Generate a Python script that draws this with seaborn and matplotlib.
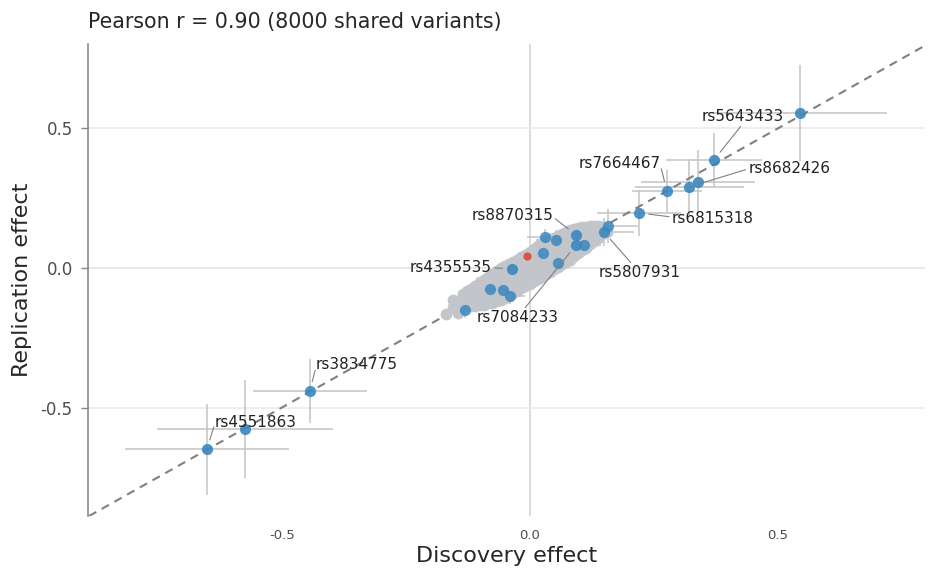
import numpy as np
import pandas as pd
import matplotlib
matplotlib.use('Agg')
import matplotlib.pyplot as plt
import seaborn as sns

sns.set_style('white')
plt.rcParams['font.family'] = ['DejaVu Sans']

# gray cloud of shared variants (one column of y values per x)
cloud_x = [-0.169, -0.155, -0.145, -0.135, -0.119, -0.101, -0.085, -0.067, -0.050, -0.034,
           -0.018, 0.000, 0.016, 0.032, 0.048, 0.065, 0.081, 0.097, 0.113, 0.129, 0.145, 0.155]
cloud_y = [[-0.165],
           [-0.115, -0.140],
           [-0.161, -0.125],
           [-0.092, -0.115, -0.138],
           [-0.074, -0.096, -0.118, -0.136],
           [-0.052, -0.074, -0.098, -0.120, -0.134],
           [-0.034, -0.056, -0.078, -0.098, -0.116, -0.127],
           [-0.010, -0.034, -0.058, -0.080, -0.102, -0.120],
           [0.008, -0.018, -0.042, -0.066, -0.089, -0.109],
           [0.022, -0.004, -0.028, -0.052, -0.077, -0.091],
           [0.039, 0.012, -0.012, -0.038, -0.063, -0.073],
           [0.057, 0.030, 0.004, -0.022, -0.048, -0.056],
           [0.079, 0.052, 0.025, -0.002, -0.027, -0.039],
           [0.097, 0.070, 0.044, 0.018, -0.004, -0.022],
           [0.108, 0.082, 0.058, 0.032, 0.012, -0.004],
           [0.122, 0.096, 0.072, 0.047, 0.023, 0.014],
           [0.136, 0.110, 0.088, 0.065, 0.044, 0.030],
           [0.143, 0.120, 0.100, 0.080, 0.062, 0.052],
           [0.147, 0.126, 0.104, 0.082, 0.073],
           [0.151, 0.128, 0.104, 0.095],
           [0.147, 0.127, 0.120],
           [0.129]]

# extra cloud variants along the upper and lower rim
rim_x = [-0.127, -0.110, -0.093, -0.076, -0.058, -0.042, -0.026, -0.009, 0.008, 0.024,
         0.040, 0.056, 0.073, 0.089, 0.105, 0.121, 0.137,
         -0.140, -0.127, -0.110, -0.093, -0.076, -0.058, -0.042, -0.026, -0.009, 0.008,
         0.024, 0.040, 0.056, 0.073, 0.089, 0.105, 0.121, 0.137]
rim_y = [-0.083, -0.063, -0.043, -0.022, -0.001, 0.015, 0.030, 0.048, 0.068, 0.088,
         0.103, 0.115, 0.129, 0.140, 0.145, 0.149, 0.149,
         -0.150, -0.137, -0.136, -0.131, -0.124, -0.115, -0.100, -0.082, -0.065, -0.048,
         -0.031, -0.013, 0.005, 0.022, 0.041, 0.063, 0.084, 0.108]

# significant variants inside the cloud
inner_x = [0.030, 0.052, 0.109, 0.026, 0.056, -0.081, -0.054, -0.040, -0.131, 0.157]
inner_y = [0.111, 0.100, 0.082, 0.054, 0.018, -0.075, -0.079, -0.100, -0.151, 0.151]
inner_xerr = [0.035, 0.04, 0.035, 0.03, 0.035, 0.04, 0.035, 0.03, 0.035, 0.06]
inner_yerr = [0.03, 0.035, 0.03, 0.03, 0.03, 0.035, 0.03, 0.03, 0.03, 0.06]

# discordant variant
red_x = [-0.006]
red_y = [0.044]

# labelled significant variants
snp_ids = ['rs8870315', 'rs7084233', 'rs4355535', 'rs5807931', 'rs6815318', 'rs7664467',
           'rs8682426', None, 'rs5643433', None, 'rs3834775', None, 'rs4551863']
snp_x = [0.093, 0.093, -0.036, 0.149, 0.220, 0.276, 0.321, 0.339, 0.371, 0.544, -0.444, -0.575, -0.651]
snp_y = [0.118, 0.082, -0.004, 0.129, 0.197, 0.276, 0.290, 0.308, 0.387, 0.556, -0.441, -0.577, -0.649]
snp_xerr = [0.035, 0.035, 0.03, 0.06, 0.084, 0.07, 0.11, 0.115, 0.097, 0.175, 0.115, 0.177, 0.165]
snp_yerr = [0.03, 0.03, 0.03, 0.05, 0.083, 0.075, 0.1, 0.115, 0.097, 0.172, 0.113, 0.177, 0.163]

n_shared = 8000
pearson_r = 0.90

# label placement: text offset in points, and where the leader leaves the text box
label_layout = {'rs8870315': ((-46, 14), (1.0, 0.4)),
                'rs7084233': ((-42, -52), (0.57, 1.0)),
                'rs4355535': ((-44, 1), (1.0, 0.5)),
                'rs5807931': ((26, -29), (0.41, 1.0)),
                'rs6815318': ((53, -4), (0.0, 0.6)),
                'rs7664467': ((-34, 20), (1.0, 0.3)),
                'rs8682426': ((72, 13), (0.0, 0.5)),
                'rs5643433': ((21, 31), (0.49, 0.0)),
                'rs3834775': ((34, 19), (0.0, 0.3)),
                'rs4551863': ((35, 19), (0.0, 0.4))}

gx, gy = list(rim_x), list(rim_y)
for x, ys in zip(cloud_x, cloud_y):
    for y in ys:
        gx.append(x)
        gy.append(y)
df_cloud = pd.DataFrame({'x': gx, 'y': gy})
df_inner = pd.DataFrame({'x': inner_x, 'y': inner_y})
df_snp = pd.DataFrame({'id': snp_ids, 'x': snp_x, 'y': snp_y})

fig = plt.figure(figsize=(9.36, 5.76), dpi=100)
ax = fig.add_axes([0.094, 0.104, 0.894, 0.82])

ax.axhline(0, color='#d4d4d4', lw=1.2, zorder=0)
ax.axvline(0, color='#d4d4d4', lw=1.2, zorder=0)
ax.axline((0, 0), slope=1, color='#808080', lw=1.5, ls=(0, (4, 3)), zorder=1.5)

ax.errorbar(inner_x, inner_y, xerr=inner_xerr, yerr=inner_yerr, fmt='none',
            ecolor='#c4c4c4', elinewidth=1.1, zorder=1)
ax.errorbar(snp_x, snp_y, xerr=snp_xerr, yerr=snp_yerr, fmt='none',
            ecolor='#c4c4c4', elinewidth=1.1, zorder=1)

sns.scatterplot(data=df_cloud, x='x', y='y', color='#c2c6ca', alpha=1.0, s=72,
                linewidth=0, ax=ax, zorder=3)
ax.scatter(red_x, red_y, color='#e0453a', s=35, linewidth=0, alpha=0.9, zorder=3.4)
sns.scatterplot(data=df_inner, x='x', y='y', color='#3a87c0', alpha=0.85, s=65,
                linewidth=0, ax=ax, zorder=3.5)
sns.scatterplot(data=df_snp, x='x', y='y', color='#3a87c0', alpha=0.9, s=65,
                linewidth=0, ax=ax, zorder=5)

for sid, x, y in zip(snp_ids, snp_x, snp_y):
    if sid is None:
        continue
    offset, relpos = label_layout[sid]
    ax.annotate(sid, (x, y), xytext=offset, textcoords='offset points',
                ha='center', va='center', fontsize=11, color='#222222', zorder=6,
                arrowprops=dict(arrowstyle='-', color='#808080', lw=0.8, relpos=relpos,
                                patchA=None, shrinkA=2, shrinkB=7))

ax.set_xlim(-0.891, 0.796)
ax.set_ylim(-0.889, 0.803)
ax.set_xticks([-0.5, 0.0, 0.5])
ax.set_yticks([-0.5, 0.0, 0.5])
ax.set_xticklabels(['-0.5', '0.0', '0.5'])
ax.set_yticklabels(['-0.5', '0.0', '0.5'])
ax.yaxis.grid(True, color='#ebebeb', lw=1.2)
ax.set_axisbelow(True)
ax.tick_params(axis='x', length=0, labelsize=9.5, labelcolor='#4d4d4d', pad=9)
ax.tick_params(axis='y', left=True, length=5, width=1, color='#888888',
               labelsize=12, labelcolor='#4d4d4d', pad=6)

sns.despine(ax=ax, top=True, right=True, bottom=True)
ax.spines['left'].set_color('#888888')
ax.spines['left'].set_linewidth(1.2)

ax.set_xlabel('Discovery effect', fontsize=16, labelpad=3)
ax.set_ylabel('Replication effect', fontsize=16, labelpad=6)
ax.set_title(f'Pearson r = {pearson_r:.2f} ({n_shared} shared variants)',
             loc='left', fontsize=14.8, pad=11)

fig.savefig('out.png', dpi=100)
